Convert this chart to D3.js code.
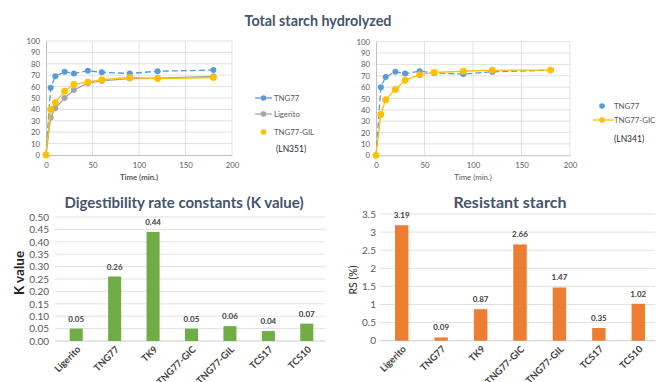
<!DOCTYPE html>
<html>
<head>
<meta charset="utf-8">
<script src="https://cdn.jsdelivr.net/npm/d3@7"></script>
<style>
  html, body { margin: 0; padding: 0; background: #fff; }
  svg { display: block; font-family: Lato, "Open Sans", sans-serif; }
</style>
</head>
<body>
<svg id="chart" width="661" height="382"></svg>
<script>
// Hydrolysis time points (min.)
const times = [0, 5, 10, 20, 30, 45, 60, 90, 120, 180];
// Total starch hydrolyzed (%), left panel
const tng77Left = [0, 59, 69, 73, 71.5, 74, 72.5, 71.5, 73.5, 74.5];
const ligeritoLeft = [0, 33, 41, 50, 57, 63, 65, 67, 67.5, 69];
const tng77GilLeft = [0, 40, 46, 56, 62, 64, 66, 68, 67, 68];
// Total starch hydrolyzed (%), right panel
const tng77Right = [0, 60, 69, 73.5, 72, 74, 72.5, 71.5, 73.5, 75];
const tng77GicRight = [0, 36, 49, 58, 66, 71, 73, 74, 75, 75];
const lineTicksX = [0, 50, 100, 150, 200];
const lineTicksY = [0, 10, 20, 30, 40, 50, 60, 70, 80, 90, 100];

// Bar panels
const varieties = ["Ligerito", "TNG77", "TK9", "TNG77-GIC", "TNG77-GIL", "TCS17", "TCS10"];
const kValues = [0.05, 0.26, 0.44, 0.05, 0.06, 0.04, 0.07];
const kTicks = [0, 0.05, 0.10, 0.15, 0.20, 0.25, 0.30, 0.35, 0.40, 0.45, 0.50];
const rsValues = [3.19, 0.09, 0.87, 2.66, 1.47, 0.35, 1.02];
const rsTicks = [0, 0.5, 1, 1.5, 2, 2.5, 3, 3.5];

const BLUE = "#5B9BD5", GREY = "#A5A5A5", YELLOW = "#FFC000";
const GREEN = "#70AD47", ORANGE = "#ED7D31";
const TITLE = "#44546A", TICK = "#595959", GRID = "#D9D9D9", DARK = "#404040";

const svg = d3.select("#chart");

// ---------- Main title ----------
svg.append("text").attr("x", 318).attr("y", 26).attr("text-anchor", "middle")
  .attr("font-size", 14.3).attr("font-weight", 700).attr("fill", TITLE)
  .text("Total starch hydrolyzed");

// ---------- Line panels ----------
function linePanel(cfg) {
  const x = d3.scaleLinear().domain([0, 200]).range(cfg.xr);
  const y = d3.scaleLinear().domain([0, 100]).range(cfg.yr);
  const g = svg.append("g");

  // horizontal grid
  g.append("g").selectAll("line").data(lineTicksY.slice(1)).join("line")
    .attr("x1", x(0)).attr("x2", x(200))
    .attr("y1", d => y(d)).attr("y2", d => y(d))
    .attr("stroke", GRID).attr("stroke-width", 0.8);
  // vertical grid
  g.append("g").selectAll("line").data(lineTicksX.slice(1)).join("line")
    .attr("x1", d => x(d)).attr("x2", d => x(d))
    .attr("y1", y(0)).attr("y2", y(100))
    .attr("stroke", GRID).attr("stroke-width", 0.8);

  // axes
  const ax = g.append("g").attr("transform", `translate(0,${y(0)})`)
    .call(d3.axisBottom(x).tickValues(lineTicksX).tickSize(0).tickPadding(7));
  ax.select(".domain").attr("stroke", "#BFBFBF");
  ax.selectAll("text").attr("font-size", 7.8).attr("fill", TICK).attr("font-family", "Lato, sans-serif");
  const ay = g.append("g").attr("transform", `translate(${x(0)},0)`)
    .call(d3.axisLeft(y).tickValues(lineTicksY).tickSize(0).tickPadding(6));
  ay.select(".domain").attr("stroke", "#BFBFBF");
  ay.selectAll("text").attr("font-size", 7.8).attr("fill", TICK).attr("font-family", "Lato, sans-serif");

  g.append("text").attr("x", (x(0) + x(200)) / 2 - 0).attr("y", y(0) + 25)
    .attr("text-anchor", "middle").attr("font-size", 7.8)
    .attr("font-weight", cfg.boldAxis ? 700 : 400).attr("fill", TICK)
    .text("Time (min.)");

  const line = d3.line().x((d, i) => x(times[i])).y(d => y(d));
  cfg.series.forEach(s => {
    g.append("path").datum(s.values).attr("d", line).attr("fill", "none")
      .attr("stroke", s.color).attr("stroke-width", 1.3)
      .attr("stroke-dasharray", s.dash || null);
    g.append("g").selectAll("circle").data(s.values).join("circle")
      .attr("cx", (d, i) => x(times[i])).attr("cy", d => y(d))
      .attr("r", s.r).attr("fill", s.color);
  });

  // legend
  cfg.legend.forEach(l => {
    if (l.line) {
      g.append("line").attr("x1", l.lx1).attr("x2", l.lx2).attr("y1", l.y).attr("y2", l.y)
        .attr("stroke", l.color).attr("stroke-width", 1.3);
    }
    g.append("circle").attr("cx", l.mx).attr("cy", l.y).attr("r", 2.8).attr("fill", l.color);
    g.append("text").attr("x", l.tx).attr("y", l.y + 2.7).attr("font-size", 7.8)
      .attr("fill", TICK).text(l.label);
  });
  g.append("text").attr("x", cfg.note.x).attr("y", cfg.note.y).attr("font-size", 8.5)
    .attr("fill", "#262626").text(cfg.note.text);
}

linePanel({
  xr: [46, 232], yr: [155, 41], boldAxis: true,
  series: [
    { values: tng77Left, color: BLUE, r: 3, dash: "6,3" },
    { values: ligeritoLeft, color: GREY, r: 3 },
    { values: tng77GilLeft, color: YELLOW, r: 3.4 }
  ],
  legend: [
    { label: "TNG77", color: BLUE, line: true, lx1: 255, lx2: 272, mx: 263.5, tx: 274, y: 98 },
    { label: "Ligerito", color: GREY, line: true, lx1: 255, lx2: 272, mx: 263.5, tx: 274, y: 114 },
    { label: "TNG77-GIL", color: YELLOW, line: false, mx: 263.5, tx: 274, y: 132 }
  ],
  note: { x: 276, y: 152, text: "(LN351)" }
});

linePanel({
  xr: [376, 570], yr: [155.3, 41.7], boldAxis: false,
  series: [
    { values: tng77Right, color: BLUE, r: 3, dash: "6,3" },
    { values: tng77GicRight, color: YELLOW, r: 3.4 }
  ],
  legend: [
    { label: "TNG77", color: BLUE, line: false, mx: 602, tx: 614, y: 106 },
    { label: "TNG77-GIC", color: YELLOW, line: true, lx1: 593, lx2: 614, mx: 602, tx: 614, y: 120 }
  ],
  note: { x: 614, y: 142, text: "(LN341)" }
});

// ---------- Bar panels ----------
function barPanel(cfg) {
  const x = d3.scaleBand().domain(varieties).range(cfg.xr).paddingInner(0.66).paddingOuter(0.33);
  const y = d3.scaleLinear().domain([0, cfg.ticks[cfg.ticks.length - 1]]).range(cfg.yr);
  const g = svg.append("g");

  g.append("text").attr("x", cfg.titleX).attr("y", 208).attr("text-anchor", "middle")
    .attr("font-size", cfg.titleSize).attr("font-weight", 700).attr("fill", TITLE).text(cfg.title);

  g.append("g").selectAll("line").data(cfg.ticks.slice(1)).join("line")
    .attr("x1", cfg.gx[0]).attr("x2", cfg.gx[1])
    .attr("y1", d => y(d)).attr("y2", d => y(d))
    .attr("stroke", GRID).attr("stroke-width", 0.8);
  g.append("line").attr("x1", cfg.gx[0]).attr("x2", cfg.gx[1])
    .attr("y1", y(0)).attr("y2", y(0)).attr("stroke", "#BFBFBF").attr("stroke-width", 0.8);

  const ay = g.append("g").attr("transform", `translate(${cfg.tickX},0)`)
    .call(d3.axisLeft(y).tickValues(cfg.ticks).tickFormat(cfg.fmt).tickSize(0).tickPadding(0));
  ay.select(".domain").remove();
  ay.selectAll("text").attr("font-size", 10).attr("fill", TICK).attr("font-family", "Lato, sans-serif");

  g.append("text").attr("transform", `translate(${cfg.yLabel.x},${cfg.yLabel.y}) rotate(-90)`)
    .attr("text-anchor", "middle").attr("font-size", cfg.yLabel.size)
    .attr("font-weight", cfg.yLabel.bold ? 700 : 400).attr("fill", "#262626").text(cfg.yLabel.text);

  g.append("g").selectAll("rect").data(cfg.values).join("rect")
    .attr("x", (d, i) => x(varieties[i])).attr("width", x.bandwidth())
    .attr("y", d => y(d)).attr("height", d => y(0) - y(d)).attr("fill", cfg.color);

  g.append("g").selectAll("text").data(cfg.values).join("text")
    .attr("x", (d, i) => x(varieties[i]) + x.bandwidth() / 2).attr("y", d => y(d) - 7)
    .attr("text-anchor", "middle").attr("font-size", 8).attr("font-weight", 700)
    .attr("fill", DARK).text(d => cfg.fmt(d));

  g.append("g").selectAll("text").data(varieties).join("text")
    .attr("transform", d => `translate(${x(d) + x.bandwidth() / 2 + 5},${y(0) + 9}) rotate(-45)`)
    .attr("text-anchor", "end").attr("font-size", 9.5).attr("font-weight", 700)
    .attr("fill", DARK).text(d => d);
}

barPanel({
  title: "Digestibility rate constants (K value)", titleX: 184, titleSize: 15,
  xr: [57, 326], yr: [341, 217], gx: [55, 325], tickX: 49,
  ticks: kTicks, values: kValues, color: GREEN, fmt: d3.format(".2f"),
  yLabel: { text: "K value", x: 24, y: 273, size: 13.5, bold: true }
});

barPanel({
  title: "Resistant starch", titleX: 510, titleSize: 16,
  xr: [382, 658], yr: [340.7, 214], gx: [380, 655], tickX: 376,
  ticks: rsTicks, values: rsValues, color: ORANGE, fmt: d => String(d),
  yLabel: { text: "RS (%)", x: 357, y: 280, size: 10.5, bold: false }
});
</script>
</body>
</html>
